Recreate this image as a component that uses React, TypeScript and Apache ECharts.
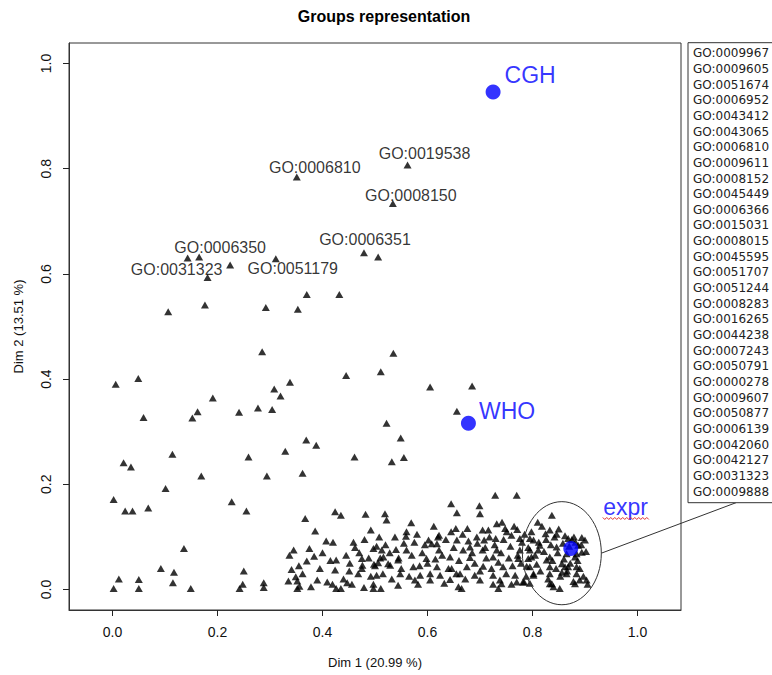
import React, { useEffect, useRef } from "react";
import * as echarts from "echarts";

// ---------- data ----------
const chartTitle = "Groups representation";
const xAxisName = "Dim 1 (20.99 %)";
const yAxisName = "Dim 2 (13.51 %)";
const xTicks = [0, 0.2, 0.4, 0.6, 0.8, 1.0];
const xTickLabels = ["0.0", "0.2", "0.4", "0.6", "0.8", "1.0"];
const yTicks = [0, 0.2, 0.4, 0.6, 0.8, 1.0];
const yTickLabels = ["0.0", "0.2", "0.4", "0.6", "0.8", "1.0"];
const xRange = [-0.083, 1.083];
const yRange = [-0.039, 1.039];

// unlabeled group coordinates (Dim 1, Dim 2)
const groupPoints: [number, number][] = [
  [0.106, 0.528], [0.176, 0.541], [0.292, 0.536], [0.353, 0.533], [0.370, 0.561], [0.432, 0.561],
  [0.285, 0.452], [0.445, 0.407], [0.511, 0.414], [0.535, 0.449], [0.605, 0.385], [0.685, 0.387],
  [0.656, 0.339], [0.006, 0.390], [0.049, 0.401], [0.308, 0.381], [0.338, 0.394], [0.320, 0.368],
  [0.191, 0.364], [0.059, 0.327], [0.162, 0.338], [0.152, 0.326], [0.241, 0.337], [0.277, 0.345],
  [0.304, 0.342], [0.522, 0.316], [0.369, 0.284], [0.388, 0.274], [0.114, 0.257], [0.259, 0.252],
  [0.329, 0.263], [0.461, 0.252], [0.021, 0.241], [0.035, 0.233], [0.532, 0.243], [0.549, 0.288],
  [0.555, 0.251], [0.181, 0.593], [0.224, 0.617], [0.506, 0.632],
  [0.169, 0.216], [0.294, 0.216], [0.362, 0.221], [0.101, 0.192], [0.002, 0.171], [0.024, 0.149],
  [0.038, 0.149], [0.068, 0.155], [0.227, 0.167], [0.255, 0.149], [0.367, 0.135], [0.424, 0.148],
  [0.435, 0.141], [0.482, 0.143], [0.519, 0.144], [0.522, 0.132], [0.386, 0.111], [0.407, 0.092],
  [0.459, 0.090], [0.492, 0.113], [0.508, 0.100], [0.136, 0.078], [0.375, 0.078], [0.337, 0.065],
  [0.384, 0.063], [0.370, 0.054], [0.426, 0.056], [0.470, 0.070], [0.475, 0.059], [0.497, 0.078],
  [0.503, 0.082], [0.513, 0.075], [0.092, 0.040], [0.117, 0.033], [0.250, 0.035], [0.341, 0.038],
  [0.424, 0.037], [0.451, 0.035], [0.475, 0.040], [0.476, 0.046], [0.506, 0.051], [0.525, 0.049],
  [0.012, 0.020], [0.050, 0.019], [0.115, 0.013], [0.248, 0.010], [0.288, 0.013], [0.349, 0.024],
  [0.335, 0.016], [0.352, 0.016], [0.390, 0.018], [0.409, 0.014], [0.419, 0.010], [0.447, 0.013],
  [0.456, 0.010], [0.503, 0.027], [0.497, 0.010], [0.002, 0.002], [0.050, 0.002], [0.149, 0.002],
  [0.242, 0.002], [0.288, 0.004], [0.352, 0.002], [0.356, 0.006], [0.378, 0.005], [0.426, 0.002],
  [0.435, 0.002], [0.479, 0.004], [0.497, 0.002], [0.511, 0.002], [0.500, 0.045], [0.510, 0.060],
  [0.729, 0.179], [0.770, 0.179], [0.645, 0.163], [0.699, 0.159], [0.656, 0.146], [0.700, 0.144],
  [0.569, 0.127], [0.732, 0.125], [0.654, 0.116], [0.676, 0.116], [0.705, 0.113], [0.716, 0.113],
  [0.748, 0.116], [0.751, 0.110], [0.771, 0.114], [0.837, 0.141], [0.622, 0.103], [0.559, 0.101],
  [0.602, 0.094], [0.608, 0.087], [0.656, 0.094], [0.694, 0.100], [0.708, 0.094], [0.730, 0.097],
  [0.760, 0.103], [0.776, 0.097], [0.795, 0.097], [0.825, 0.106], [0.833, 0.113], [0.846, 0.105],
  [0.894, 0.099], [0.900, 0.094], [0.540, 0.076], [0.560, 0.075], [0.618, 0.087], [0.622, 0.075],
  [0.668, 0.075], [0.681, 0.081], [0.710, 0.080], [0.732, 0.075], [0.776, 0.075], [0.795, 0.075],
  [0.814, 0.084], [0.846, 0.081], [0.887, 0.084], [0.516, 0.062], [0.544, 0.056], [0.598, 0.059],
  [0.643, 0.062], [0.681, 0.061], [0.725, 0.062], [0.773, 0.059], [0.798, 0.062], [0.833, 0.062],
  [0.881, 0.062], [0.529, 0.046], [0.573, 0.043], [0.618, 0.043], [0.646, 0.040], [0.675, 0.043],
  [0.706, 0.044], [0.744, 0.043], [0.789, 0.044], [0.833, 0.043], [0.862, 0.043], [0.884, 0.043],
  [0.548, 0.030], [0.586, 0.027], [0.624, 0.027], [0.662, 0.030], [0.690, 0.027], [0.725, 0.027],
  [0.767, 0.027], [0.802, 0.030], [0.833, 0.030], [0.856, 0.033], [0.576, 0.018], [0.582, 0.010],
  [0.605, 0.018], [0.643, 0.019], [0.659, 0.005], [0.665, 0.002], [0.700, 0.018], [0.735, 0.002],
  [0.741, 0.011], [0.770, 0.014], [0.782, 0.014], [0.837, 0.011], [0.852, 0.002], [0.881, 0.011],
  [0.890, 0.018], [0.903, 0.018], [0.544, 0.008], [0.868, 0.097], [0.879, 0.100], [0.865, 0.068],
  [0.884, 0.068], [0.894, 0.071], [0.802, 0.094], [0.811, 0.075], [0.792, 0.059], [0.795, 0.043],
  [0.802, 0.027], [0.827, 0.056], [0.856, 0.049], [0.868, 0.043], [0.884, 0.030], [0.865, 0.030],
  [0.833, 0.011], [0.840, 0.005], [0.784, 0.014], [0.738, 0.018],
  [0.560, 0.110], [0.575, 0.090], [0.590, 0.070], [0.600, 0.050], [0.612, 0.120], [0.628, 0.065],
  [0.635, 0.095], [0.640, 0.040], [0.650, 0.080], [0.660, 0.055], [0.667, 0.105], [0.672, 0.020],
  [0.685, 0.070], [0.690, 0.050], [0.695, 0.088], [0.700, 0.035], [0.712, 0.060], [0.718, 0.100],
  [0.722, 0.040], [0.728, 0.085], [0.735, 0.052], [0.740, 0.070], [0.745, 0.095], [0.750, 0.030],
  [0.755, 0.060], [0.758, 0.082], [0.762, 0.045], [0.765, 0.120], [0.772, 0.065], [0.778, 0.050],
  [0.780, 0.090], [0.785, 0.105], [0.788, 0.025], [0.792, 0.080], [0.798, 0.110], [0.805, 0.065],
  [0.808, 0.048], [0.812, 0.090], [0.815, 0.035], [0.818, 0.120], [0.822, 0.072], [0.826, 0.095],
  [0.830, 0.020], [0.835, 0.085], [0.838, 0.055], [0.842, 0.100], [0.845, 0.040], [0.848, 0.070],
  [0.850, 0.115], [0.853, 0.025], [0.858, 0.088], [0.860, 0.058], [0.862, 0.102], [0.866, 0.035],
  [0.870, 0.082], [0.872, 0.050], [0.875, 0.095], [0.878, 0.015], [0.882, 0.090], [0.886, 0.055],
  [0.890, 0.040], [0.893, 0.085], [0.897, 0.025], [0.902, 0.072], [0.905, 0.010],
  [0.345, 0.075], [0.355, 0.045], [0.362, 0.030], [0.395, 0.040], [0.400, 0.070], [0.415, 0.055],
  [0.420, 0.090], [0.440, 0.020], [0.445, 0.065], [0.452, 0.050], [0.462, 0.080], [0.468, 0.030],
  [0.480, 0.095], [0.488, 0.060], [0.492, 0.025], [0.498, 0.048], [0.515, 0.030], [0.520, 0.085],
  [0.528, 0.070], [0.532, 0.020], [0.538, 0.100], [0.545, 0.060], [0.550, 0.040], [0.555, 0.088],
  [0.565, 0.025], [0.570, 0.065], [0.580, 0.105], [0.585, 0.045], [0.595, 0.085], [0.605, 0.030],
  [0.615, 0.058], [0.620, 0.100], [0.632, 0.012], [0.645, 0.110], [0.655, 0.030], [0.678, 0.092],
  [0.705, 0.075], [0.725, 0.010], [0.742, 0.128], [0.760, 0.010], [0.795, 0.012], [0.810, 0.128],
];

// labeled groups
const labeledNames = ["GO:0006810", "GO:0019538", "GO:0008150", "GO:0006351", "GO:0006350", "GO:0031323", "GO:0051179"];
const labeledX = [0.351, 0.562, 0.534, 0.479, 0.165, 0.143, 0.311];
const labeledY = [0.784, 0.807, 0.734, 0.640, 0.632, 0.630, 0.629];

// supplementary variables
const variableNames = ["CGH", "WHO", "expr"];
const variableX = [0.725, 0.678, 0.873];
const variableY = [0.946, 0.316, 0.078];

// groups listed in the box linked to the expr ellipse
const exprGroups = [
  "GO:0009967", "GO:0009605", "GO:0051674", "GO:0006952", "GO:0043412", "GO:0043065",
  "GO:0006810", "GO:0009611", "GO:0008152", "GO:0045449", "GO:0006366", "GO:0015031",
  "GO:0008015", "GO:0045595", "GO:0051707", "GO:0051244", "GO:0008283", "GO:0016265",
  "GO:0044238", "GO:0007243", "GO:0050791", "GO:0000278", "GO:0009607", "GO:0050877",
  "GO:0006139", "GO:0042060", "GO:0042127", "GO:0031323", "GO:0009888",
];
const exprEllipseCenter = [0.856, 0.069];
const exprEllipseRadius = [0.0752, 0.098];

// ---------- layout / style ----------
const FONT = "'Liberation Sans', Arial, Helvetica, sans-serif";
const labelOffsets: [number, number][] = [
  [18, -10], [17, -12], [18, -8], [1, -13], [21, -10], [-11, 11], [17, 10],
];
const variableLabelLayout = [
  { distance: 4, offset: [0, -17] },
  { distance: 3, offset: [0, -12] },
  { distance: 25, offset: [0, -41] },
];

export default function App() {
  const ref = useRef<HTMLDivElement>(null);

  useEffect(() => {
    if (!ref.current) return;
    const chart = echarts.init(ref.current, undefined, { renderer: "svg" });

    const option: any = {
      animation: false,
      backgroundColor: "#ffffff",
      title: {
        text: chartTitle,
        left: 379,
        top: 3,
        textAlign: "center",
        textStyle: { fontFamily: FONT, fontSize: 16, fontWeight: "bold", color: "#000" },
      },
      grid: {
        left: 69, right: 91, top: 43, bottom: 65,
        show: true, borderColor: "#333", borderWidth: 1, backgroundColor: "transparent",
      },
      xAxis: {
        type: "value",
        min: xRange[0],
        max: xRange[1],
        name: xAxisName,
        nameLocation: "middle",
        nameGap: 46,
        nameTextStyle: { fontFamily: FONT, fontSize: 13, color: "#111" },
        axisLine: { show: true, onZero: false, lineStyle: { color: "#333", width: 1 } },
        splitLine: { show: false },
        axisTick: { show: true, inside: false, length: 6, customValues: xTicks, lineStyle: { color: "#222", width: 1 } },
        axisLabel: {
          customValues: xTicks,
          margin: 15,
          fontFamily: FONT, fontSize: 14, color: "#111",
          formatter: (v: number) => {
            const i = xTicks.findIndex((t) => Math.abs(t - v) < 1e-9);
            return i >= 0 ? xTickLabels[i] : "";
          },
        },
      },
      yAxis: {
        type: "value",
        min: yRange[0],
        max: yRange[1],
        name: yAxisName,
        nameLocation: "middle",
        nameGap: 44,
        nameRotate: 90,
        nameTextStyle: { fontFamily: FONT, fontSize: 13, color: "#111" },
        axisLine: { show: true, onZero: false, lineStyle: { color: "#333", width: 1 } },
        splitLine: { show: false },
        axisTick: { show: true, inside: false, length: 6, customValues: yTicks, lineStyle: { color: "#222", width: 1 } },
        axisLabel: {
          customValues: yTicks,
          rotate: 90,
          margin: 16,
          fontFamily: FONT, fontSize: 14, color: "#111",
          formatter: (v: number) => {
            const i = yTicks.findIndex((t) => Math.abs(t - v) < 1e-9);
            return i >= 0 ? yTickLabels[i] : "";
          },
        },
      },
      series: [
        {
          name: "groups",
          type: "scatter",
          symbol: "triangle",
          symbolSize: [8, 7],
          itemStyle: { color: "#000" },
          data: groupPoints,
          z: 2,
        },
        {
          name: "labeled groups",
          type: "scatter",
          symbol: "triangle",
          symbolSize: [8, 7],
          itemStyle: { color: "#000" },
          data: labeledNames.map((n, i) => ({
            name: n,
            value: [labeledX[i], labeledY[i]],
            label: {
              show: true,
              formatter: n,
              position: "inside",
              offset: labelOffsets[i],
              fontFamily: FONT,
              fontSize: 16,
              color: "#000",
            },
          })),
          z: 3,
        },
        {
          name: "variables",
          type: "scatter",
          symbol: "circle",
          symbolSize: 15,
          itemStyle: { color: "#0000ff" },
          data: variableNames.map((n, i) => ({
            name: n,
            value: [variableX[i], variableY[i]],
            label: {
              show: true,
              formatter: n,
              position: "right",
              distance: variableLabelLayout[i].distance,
              offset: variableLabelLayout[i].offset,
              fontFamily: FONT,
              fontSize: 23,
              color: "#0000ff",
            },
          })),
          z: 4,
        },
      ],
    };
    chart.setOption(option);

    const toPx = (p: number[]) => chart.convertToPixel({ gridIndex: 0 }, p) as number[];

    // overlay: ellipse around expr, linked box of groups
    const c = toPx(exprEllipseCenter);
    const ex = toPx([exprEllipseCenter[0] + exprEllipseRadius[0], exprEllipseCenter[1]]);
    const ey = toPx([exprEllipseCenter[0], exprEllipseCenter[1] + exprEllipseRadius[1]]);
    const rx = ex[0] - c[0];
    const ry = c[1] - ey[1];

    const boxLeft = 688;
    const boxTop = 42.7;
    const rowH = 15.65;
    const boxHeight = 460;
    const boxBottom = boxTop + boxHeight;

    const ep = toPx([variableX[2], variableY[2]]);
    const squiggle: number[][] = [];
    for (let k = 0; k <= 23; k++) {
      squiggle.push([ep[0] + 32 + k * 2, ep[1] - 30 + (k % 2 === 0 ? -1 : 1)]);
    }

    const graphic: any[] = [
      {
        type: "ellipse",
        shape: { cx: c[0], cy: c[1], rx, ry },
        style: { stroke: "#333", fill: null, lineWidth: 1 },
        z: 10,
      },
      {
        type: "line",
        shape: { x1: c[0] + rx, y1: c[1], x2: 736, y2: boxBottom },
        style: { stroke: "#333", lineWidth: 1 },
        z: 10,
      },
      {
        type: "rect",
        shape: { x: boxLeft, y: boxTop, width: 120, height: boxHeight },
        style: { stroke: "#333", fill: "#fff", lineWidth: 1 },
        z: 10,
      },
      ...exprGroups.map((g, i) => ({
        type: "text",
        x: boxLeft + 5,
        y: boxTop + 10.6 + i * rowH,
        style: {
          text: g,
          fill: "#222",
          fontSize: 12,
          fontFamily: "'DejaVu Sans', Verdana, sans-serif",
          verticalAlign: "middle",
          align: "left",
        },
        z: 11,
      })),
      {
        type: "polyline",
        shape: { points: squiggle },
        style: { stroke: "#e03030", lineWidth: 1, fill: null },
        z: 11,
      },
    ];
    chart.setOption({ graphic });

    return () => chart.dispose();
  }, []);

  return (
    <div
      ref={ref}
      style={{ position: "fixed", left: 0, top: 0, width: 772, height: 675, background: "#fff" }}
    />
  );
}
